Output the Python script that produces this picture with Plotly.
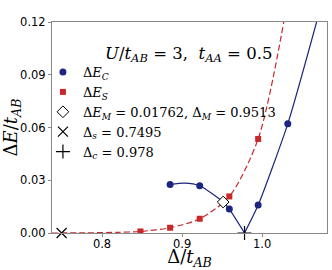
import plotly.graph_objects as go

# --- data ---
ec_x = [0.885, 0.922, 0.959, 0.995, 1.032]
ec_y = [0.0276, 0.0269, 0.0136, 0.0159, 0.0621]

es_x = [0.848, 0.885, 0.922, 0.959, 0.995]
es_y = [0.0009, 0.0030, 0.0081, 0.0208, 0.0535]

# fitted curves
c_left_x = [0.885, 0.903, 0.922, 0.9513, 0.959, 0.978]
c_left_y = [0.0276, 0.0284, 0.0269, 0.0176, 0.0136, 0.0]
c_right_x = [0.978, 0.995, 1.032, 1.068]
c_right_y = [0.0, 0.0159, 0.0621, 0.1200]
s_curve_x = [0.7375, 0.78, 0.82, 0.848, 0.885, 0.922, 0.959, 0.995, 1.027]
s_curve_y = [0.0, 0.0001, 0.0004, 0.0009, 0.0030, 0.0081, 0.0208, 0.0535, 0.1200]

dEM, dM = 0.01762, 0.9513
d_s = 0.7495
d_c = 0.978

BLUE = "#1c2580"
RED = "#c8282c"
SERIF = "'DejaVu Serif', 'Liberation Serif', serif"

fig = go.Figure()
fig.add_trace(go.Scatter(x=s_curve_x, y=s_curve_y, mode="lines", showlegend=False,
                         line=dict(color=RED, width=1.2, dash="6px,3px", shape="spline", smoothing=0.8)))
fig.add_trace(go.Scatter(x=c_left_x, y=c_left_y, mode="lines", showlegend=False,
                         line=dict(color=BLUE, width=1.2, shape="spline", smoothing=0.6)))
fig.add_trace(go.Scatter(x=c_right_x, y=c_right_y, mode="lines", showlegend=False,
                         line=dict(color=BLUE, width=1.2, shape="spline", smoothing=0.6)))

fig.add_trace(go.Scatter(x=ec_x, y=ec_y, mode="markers", name="Δ<i>E</i><sub><i>C</i></sub>",
                         marker=dict(color=BLUE, size=7, symbol="circle")))
fig.add_trace(go.Scatter(x=es_x, y=es_y, mode="markers", name="Δ<i>E</i><sub><i>S</i></sub>",
                         marker=dict(color=RED, size=6, symbol="square")))
fig.add_trace(go.Scatter(x=[dM], y=[dEM], mode="markers",
                         name="Δ<i>E</i><sub><i>M</i></sub> = 0.01762, Δ<sub><i>M</i></sub> = 0.9513",
                         marker=dict(color="white", size=9, symbol="diamond", line=dict(color="black", width=1))))
fig.add_trace(go.Scatter(x=[d_s], y=[0], mode="markers", name="Δ<sub><i>s</i></sub> = 0.7495",
                         marker=dict(color="black", size=10, symbol="x-thin", line=dict(color="black", width=1.2)),
                         cliponaxis=False))
fig.add_trace(go.Scatter(x=[d_c], y=[0], mode="markers", name="Δ<sub><i>c</i></sub> = 0.978",
                         marker=dict(color="black", size=10, symbol="cross-thin", line=dict(color="black", width=1.2)),
                         cliponaxis=False))

fig.add_annotation(x=0.498, y=0.907, xref="paper", yref="paper", showarrow=False,
                   text="<i>U</i>/<i>t</i><sub><i>AB</i></sub> = 3,  <i>t</i><sub><i>AA</i></sub> = 0.5",
                   font=dict(family=SERIF, size=16.5, color="black"))

axis_common = dict(showgrid=False, zeroline=False, showline=True, linecolor="#888888", linewidth=1,
                   mirror=True, ticks="outside", ticklen=3, tickcolor="#888888", automargin=False,
                   tickfont=dict(family="DejaVu Sans", size=11.5, color="black"))
fig.update_xaxes(range=[0.7375, 1.081], tickvals=[0.8, 0.9, 1.0], ticktext=["0.8", "0.9", "1.0"],
                 ticklabelstandoff=-3,
                 title=dict(text="Δ/<i>t</i><sub><i>AB</i></sub>", font=dict(family=SERIF, size=18, color="black"),
                            standoff=0),
                 **axis_common)
fig.update_yaxes(range=[0, 0.12], tickvals=[0, 0.03, 0.06, 0.09, 0.12],
                 ticktext=["0.00", "0.03", "0.06", "0.09", "0.12"],
                 title=dict(text="Δ<i>E</i>/<i>t</i><sub><i>AB</i></sub>", font=dict(family=SERIF, size=18, color="black"),
                            standoff=2),
                 **axis_common)

fig.update_layout(width=332, height=270, margin=dict(l=52, r=5, t=22, b=37),
                  plot_bgcolor="white", paper_bgcolor="white",
                  legend=dict(x=-0.033, y=0.834, xanchor="left", yanchor="top", bgcolor="rgba(0,0,0,0)",
                              font=dict(family=SERIF, size=13, color="black"), tracegroupgap=0,
                              itemwidth=30))
fig.write_html("out.html", config={"displayModeBar": False},
               post_script="document.body.style.margin='0';")
